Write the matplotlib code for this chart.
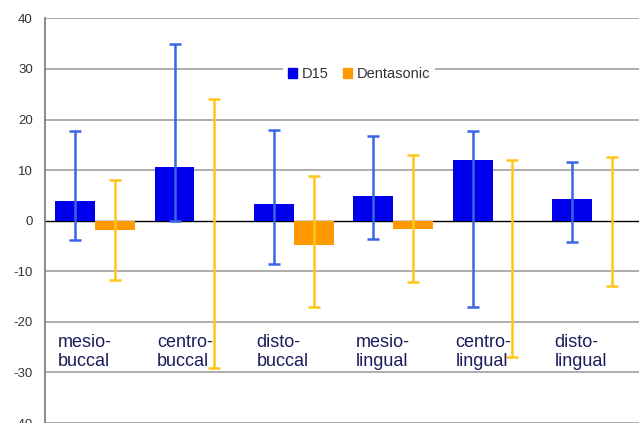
import matplotlib
matplotlib.use("Agg")
import matplotlib.pyplot as plt
from matplotlib.patches import Rectangle
import numpy as np

# Data
categories = ["mesio-\nbuccal", "centro-\nbuccal", "disto-\nbuccal",
              "mesio-\nlingual", "centro-\nlingual", "disto-\nlingual"]
series_names = ["D15", "Dentasonic"]

d15_mean = [3.8, 10.7, 3.3, 4.8, 12.1, 4.2]
d15_low = [-3.9, 0.0, -8.6, -3.6, -17.1, -4.3]
d15_high = [17.8, 35.0, 18.0, 16.8, 17.8, 11.6]

dent_mean = [-1.9, 0.0, -4.8, -1.6, 0.0, 0.0]
dent_low = [-11.7, -29.2, -17.1, -12.2, -27.0, -13.0]
dent_high = [8.0, 24.1, 8.8, 12.9, 12.1, 12.5]

yticks = [-40, -30, -20, -10, 0, 10, 20, 30, 40]

plt.rcParams["font.family"] = ["Liberation Sans", "DejaVu Sans"]
plt.rcParams["axes.unicode_minus"] = False

fig = plt.figure(figsize=(6.39, 4.23), dpi=100)
ax = fig.add_axes([45.3 / 639, 0.0, (641.7 - 45.3) / 639, (422.9 - 18.3) / 423])

x = np.arange(len(categories))
bw = 0.4
blue_bar, orange_bar = "#0000ee", "#ff9900"
blue_err, yellow_err = "#3a66e6", "#ffc61a"

def draw_series(xpos, mean, low, high, bar_color, err_color):
    mean = np.asarray(mean)
    yerr = np.vstack([mean - np.asarray(low), np.asarray(high) - mean])
    ax.bar(xpos, mean, width=bw, color=bar_color, zorder=3, linewidth=0)
    ax.errorbar(xpos, mean, yerr=yerr, fmt="none", ecolor=err_color,
                elinewidth=1.8, capsize=4.5, capthick=1.8, zorder=4)

draw_series(x - bw / 2, d15_mean, d15_low, d15_high, blue_bar, blue_err)
draw_series(x + bw / 2, dent_mean, dent_low, dent_high, orange_bar, yellow_err)

ax.set_xlim(-0.5, len(categories) - 0.5)
ax.set_ylim(-40, 40)
ax.set_yticks(yticks)
ax.set_xticks([])
ax.tick_params(axis="y", length=0, pad=9.0, labelsize=9.5, labelcolor="#333333")

for y in yticks:
    if y == 0:
        ax.axhline(y, color="black", linewidth=1.0, zorder=2)
    else:
        ax.axhline(y, color="#a0a0a0", linewidth=1.2, zorder=1)

for s in ["top", "right", "bottom"]:
    ax.spines[s].set_visible(False)
ax.spines["left"].set_color("#777777")
ax.spines["left"].set_linewidth(1.2)

for i, name in enumerate(categories):
    ax.text(i - 0.375, -26.0, name, ha="left", va="center", fontsize=13,
            color="#1c1c5c", linespacing=1.18, zorder=5)

handles = [Rectangle((0, 0), 1, 1, color=blue_bar),
           Rectangle((0, 0), 1, 1, color=orange_bar)]
leg = fig.legend(handles, series_names, loc="center",
                 bbox_to_anchor=(359 / 639, 1 - 74 / 423), ncol=2,
                 frameon=True, fancybox=False, facecolor="white",
                 edgecolor="none", framealpha=1.0, fontsize=10.5,
                 handlelength=0.65, handleheight=0.65, handletextpad=0.3,
                 columnspacing=1.0, borderpad=0.3, borderaxespad=0)
for t in leg.get_texts():
    t.set_color("#333333")

fig.savefig("out.png", dpi=100)
